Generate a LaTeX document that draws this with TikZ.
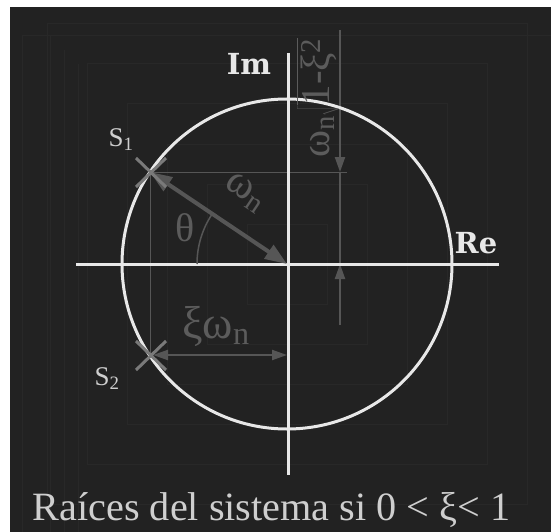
\documentclass[tikz,border=0pt]{standalone}
\usepackage{fontspec}
\setmainfont{Liberation Serif}
\newfontfamily\slabfont{DejaVu Serif}
\usetikzlibrary{arrows.meta}
\definecolor{bg}{HTML}{222222}
\definecolor{band}{HTML}{282828}
\definecolor{axiscol}{HTML}{E8E8E8}
\definecolor{dimgray}{HTML}{565656}
\definecolor{markgray}{HTML}{7A7A7A}
\definecolor{labgray}{HTML}{5C5C5C}
\definecolor{lightlab}{HTML}{CFCFCF}
\begin{document}
\begin{tikzpicture}[x=1pt,y=-1pt,
  axisline/.style={draw=axiscol,line width=3pt},
  faint/.style={draw=band,line width=1pt},
  thinline/.style={draw=dimgray,line width=1pt},
  dimline/.style={draw=dimgray,line width=2pt,-{Triangle[length=15pt,width=10pt]}},
  bigarrow/.style={draw=dimgray,line width=4pt,{Triangle[length=22pt,width=16pt]}-{Triangle[length=22pt,width=16pt]}},
  xmark/.style={draw=markgray,line width=3pt},
  axislab/.style={text=axiscol,font=\slabfont\bfseries\fontsize{29}{31}\selectfont,inner sep=0pt},
  glab/.style={text=labgray,inner sep=0pt},
  slab/.style={text=lightlab,font=\fontsize{27}{30}\selectfont,inner sep=0pt}
]
\useasboundingbox (0,0) rectangle (551,532);
\fill[white] (0,0) rectangle (551,532);
\fill[bg] (10,7) rectangle (551,532);
% faint background banding
\foreach \h in {40,80,120,160,200,240} {
  \draw[faint] (287-\h,264-\h) rectangle (287+\h,264+\h);
}
\draw[faint] (22,532) -- (22,36) -- (551,36);
\draw[faint] (50,532) -- (50,36);
\draw[faint] (64,532) -- (64,50);
\draw[faint] (78,532) -- (78,64);

\coordinate (O) at (287,264);
\coordinate (S1) at (150,172);
\coordinate (S2) at (150,356);
\coordinate (L) at (76,264);
\coordinate (R) at (499,264);
\coordinate (T) at (288,53);
\coordinate (B) at (288,475);

% helper lines
\coordinate (H1) at (347,172);
\draw[thinline] (S1) -- (H1);
\draw[thinline] (S1) -- (S2);

% vertical dimension
\coordinate (DT) at (340,30);
\coordinate (D1) at (340,172);
\coordinate (D2) at (340,264);
\coordinate (DB) at (340,325);
\draw[dimline] (DT) -- (D1);
\draw[thinline,line width=2pt] (D1) -- (D2);
\draw[dimline] (DB) -- (D2);

% axes and circle
\draw[axisline] (O) circle[radius=165];
\draw[axisline] (L) -- (R);
\draw[axisline] (T) -- (B);

% omega_n arrow
\draw[bigarrow] (S1) -- (O);
% theta arc
\draw[draw=dimgray,line width=1.5pt] (197,264) arc[start angle=180,end angle=213.8,radius=90];

% xi omega_n dimension
\coordinate (X1) at (153,355);
\coordinate (X2) at (287,355);
\draw[draw=dimgray,line width=2pt,{Triangle[length=15pt,width=10pt]}-{Triangle[length=15pt,width=10pt]}] (X1) -- (X2);

% root marks
\draw[xmark] (136,158) -- (166,187);
\draw[xmark] (166,158) -- (136,187);
\draw[xmark] (136,341) -- (166,370);
\draw[xmark] (166,341) -- (136,370);

% labels
\node[axislab] (im) at (249,64) {Im};
\node[axislab] (re) at (476,243) {Re};
\node[slab] (s1) at (121,140) {S\textsubscript{1}};
\node[slab] (s2) at (107,379) {S\textsubscript{2}};
\node[glab,font=\fontsize{40}{42}\selectfont] (theta) at (185,228) {θ};
\node[glab,font=\fontsize{42}{44}\selectfont,rotate=-34] (wn) at (245,193) {ω\textsubscript{n}};
\node[glab,font=\fontsize{46}{50}\selectfont] (xw) at (216,326) {ξω\textsubscript{n}};
\node[glab,font=\fontsize{41}{44}\selectfont,rotate=90] (sq) at (318,98) {ω\textsubscript{n}$\sqrt{\hbox{1-ξ\textsuperscript{2}}}$};
\node[text=lightlab,font=\fontsize{40.2}{44}\selectfont,inner sep=0pt,anchor=base] (title) at (271.5,520) {Raíces del sistema si 0 < ξ< 1};
\end{tikzpicture}
\end{document}
